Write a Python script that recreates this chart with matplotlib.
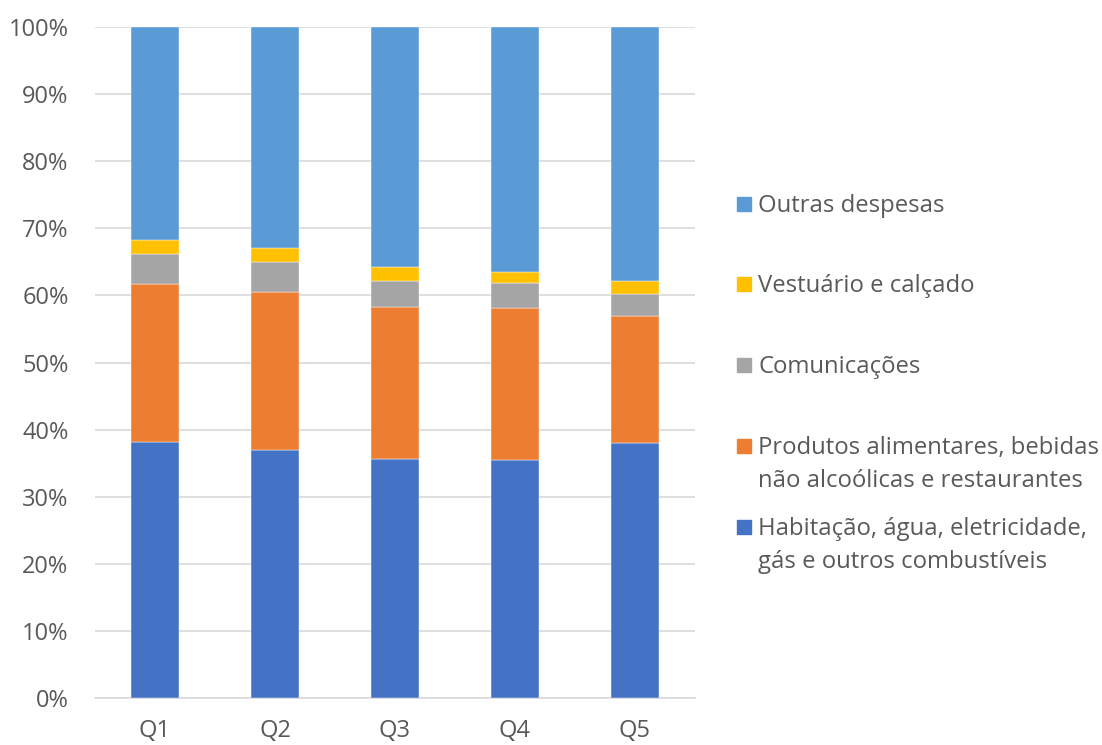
import matplotlib
matplotlib.use("Agg")
import matplotlib.pyplot as plt
from matplotlib.patches import Rectangle
import numpy as np

plt.rcParams['font.family'] = ['Open Sans', 'DejaVu Sans']

# quintis
categorias = ["Q1", "Q2", "Q3", "Q4", "Q5"]

# percentagens (%) por quintil
habitacao = [38.1, 36.9, 35.6, 35.4, 38.0]
alimentares = [23.6, 23.6, 22.6, 22.7, 19.0]
comunicacoes = [4.4, 4.5, 4.0, 3.8, 3.2]
vestuario = [2.1, 2.1, 2.0, 1.6, 1.9]
outras = [31.8, 32.9, 35.8, 36.5, 37.9]

series = [
    ("Habitação, água, eletricidade,\ngás e outros combustíveis", habitacao, "#4472C4"),
    ("Produtos alimentares, bebidas\nnão alcoólicas e restaurantes", alimentares, "#ED7D31"),
    ("Comunicações", comunicacoes, "#A5A5A5"),
    ("Vestuário e calçado", vestuario, "#FFC000"),
    ("Outras despesas", outras, "#5B9BD5"),
]

W, H = 1102, 745
fig = plt.figure(figsize=(W / 100, H / 100), dpi=100)
ax = fig.add_axes([95 / W, 1 - 698 / H, 600 / W, 671 / H])

x = np.arange(len(categorias))
base = np.zeros(len(categorias))
for nome, vals, cor in series:
    v = np.array(vals, dtype=float)
    ax.bar(x, v, width=0.4, bottom=base, color=cor, edgecolor="white",
           linewidth=0.3, zorder=3)
    base += v

ax.set_xlim(-0.5, 4.5)
ax.set_ylim(0, 100)
ax.set_yticks(np.arange(0, 101, 10))
ax.set_yticklabels([f"{t}%" for t in range(0, 101, 10)])
ax.set_xticks(x)
ax.set_xticklabels(categorias)
ax.grid(axis="y", color="#D9D9D9", linewidth=1.2, zorder=0)
for s in ["top", "right", "left"]:
    ax.spines[s].set_visible(False)
ax.spines["bottom"].set_color("#D9D9D9")
ax.spines["bottom"].set_linewidth(1.2)
ax.tick_params(axis="both", length=0, labelsize=17, colors="#595959")
ax.tick_params(axis="y", pad=19)
ax.tick_params(axis="x", pad=15)

# legenda manual
centros = [527, 446, 365, 284, 204]
for (nome, vals, cor), yc in zip(series, centros):
    fig.patches.append(Rectangle((737 / W, 1 - (yc + 7) / H), 14 / W, 14 / H,
                                 transform=fig.transFigure, color=cor, figure=fig))
    for i, linha in enumerate(nome.split("\n")):
        fig.text(758 / W, 1 - (yc + 2 + i * 33) / H, linha, fontsize=17.2,
                 color="#595959", va="center", ha="left")

fig.savefig("out.png", dpi=100)
